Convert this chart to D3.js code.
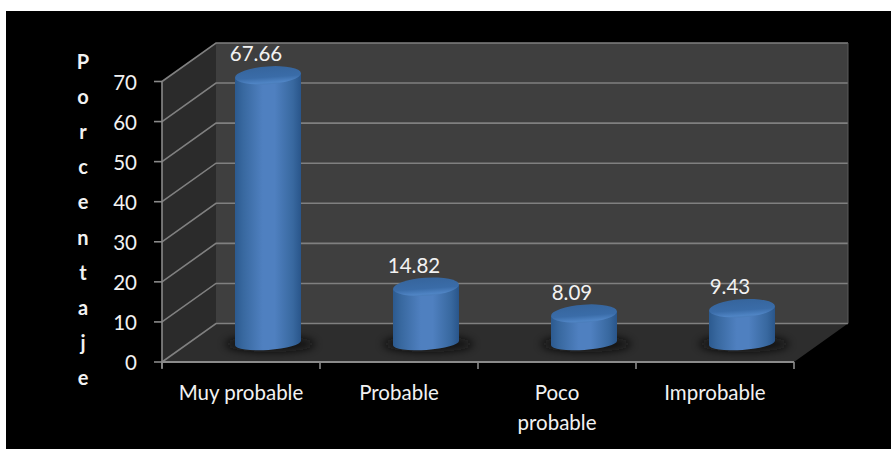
<!DOCTYPE html>
<html>
<head>
<meta charset="utf-8">
<script src="https://cdnjs.cloudflare.com/ajax/libs/d3/7.8.5/d3.min.js"></script>
<style>
html,body{margin:0;padding:0;background:#fff;}
svg{display:block;}
text{font-family:Lato,"Open Sans",sans-serif;fill:#f2f2f2;}
</style>
</head>
<body>
<svg id="chart" width="891" height="449"></svg>
<script>
// Survey responses, in percent
const categories = ["Muy probable", "Probable", "Poco probable", "Improbable"];
const values = [67.66, 14.82, 8.09, 9.43];
const valueLabels = ["67.66", "14.82", "8.09", "9.43"];
const yTicks = [0, 10, 20, 30, 40, 50, 60, 70];
const axisTitle = "Porcentaje".split("");

const svg = d3.select("#chart");
svg.append("rect").attr("x", 6).attr("y", 11).attr("width", 885).attr("height", 438).attr("fill", "#000");

// Front plane of the 3D box and the offset to its back plane
const x = d3.scaleBand().domain(categories).range([162, 794]).padding(0);
const y = d3.scaleLinear().domain([0, 70]).range([362, 81.5]);
const depth = { dx: 54, dy: -38.5 };
const x0 = 162, x1 = 794;

const defs = svg.append("defs");
const body = defs.append("linearGradient").attr("id", "cylBody");
[[0, "#2c5a8f"], [0.12, "#38689f"], [0.42, "#4f80c0"], [0.6, "#4f80c0"], [0.88, "#38689f"], [1, "#29558a"]]
  .forEach(([o, c]) => body.append("stop").attr("offset", o).attr("stop-color", c));
const cap = defs.append("linearGradient").attr("id", "cylCap").attr("x1", 0).attr("x2", 0).attr("y1", 0).attr("y2", 1);
[[0, "#36659d"], [0.6, "#3a6ca8"], [0.9, "#4f84c4"], [1, "#4a7cb8"]]
  .forEach(([o, c]) => cap.append("stop").attr("offset", o).attr("stop-color", c));
defs.append("filter").attr("id", "soft").attr("x", "-30%").attr("y", "-60%").attr("width", "160%").attr("height", "220%")
  .append("feGaussianBlur").attr("stdDeviation", 4);

// Walls and floor
const poly = (pts, fill) => svg.append("polygon").attr("points", pts.map(p => p.join(",")).join(" ")).attr("fill", fill);
poly([[x0, y(0)], [x0 + depth.dx, y(0) + depth.dy], [x0 + depth.dx, y(70) + depth.dy], [x0, y(70)]], "#2b2b2b");
poly([[x0 + depth.dx, y(0) + depth.dy], [x1 + depth.dx, y(0) + depth.dy], [x1 + depth.dx, y(70) + depth.dy], [x0 + depth.dx, y(70) + depth.dy]], "#3f3f3f");
poly([[x0, y(0)], [x1, y(0)], [x1 + depth.dx, y(0) + depth.dy], [x0 + depth.dx, y(0) + depth.dy]], "#2d2d2d");

// Gridlines run along the side wall and across the back wall
const grid = "#808080";
svg.append("g").selectAll("path").data(yTicks).join("path")
  .attr("d", t => `M${x0},${y(t)}L${x0 + depth.dx},${y(t) + depth.dy}H${x1 + depth.dx}`)
  .attr("fill", "none").attr("stroke", grid).attr("stroke-width", 1.6);
svg.append("line").attr("x1", x1 + depth.dx).attr("x2", x1 + depth.dx)
  .attr("y1", y(70) + depth.dy).attr("y2", y(0) + depth.dy).attr("stroke", "#5c5c5c").attr("stroke-width", 1);

// Axis lines with outward ticks
const axisColor = "#8a8a8a";
svg.append("line").attr("x1", x0).attr("x2", x0).attr("y1", y(70)).attr("y2", y(0) + 6).attr("stroke", axisColor).attr("stroke-width", 1.6);
svg.append("line").attr("x1", x0).attr("x2", x1).attr("y1", y(0)).attr("y2", y(0)).attr("stroke", axisColor).attr("stroke-width", 1.8);
svg.append("g").selectAll("line").data(yTicks).join("line")
  .attr("x1", x0 - 8).attr("x2", x0).attr("y1", t => y(t)).attr("y2", t => y(t))
  .attr("stroke", axisColor).attr("stroke-width", 1.6);
const boundaries = [...categories.map(c => x(c)), x1];
svg.append("g").selectAll("line").data(boundaries).join("line")
  .attr("x1", d => d).attr("x2", d => d).attr("y1", y(0)).attr("y2", y(0) + 7)
  .attr("stroke", axisColor).attr("stroke-width", 1.6);

// Cylinders stand mid-way through the depth of the box, slightly tilted by the view
const rx = 33, ryTop = 9, ryBase = 7, tilt = -4;
const lift = rx * Math.sin(-tilt * Math.PI / 180);
const capY = d3.scaleLinear().domain([0, 70]).range([346, 66]);
const baseY = 343;
const cx = c => x(c) + x.bandwidth() / 2 + depth.dx / 2;

const bars = svg.append("g").selectAll("g").data(categories).join("g");
bars.append("ellipse").attr("cx", c => cx(c) + 2).attr("cy", baseY + 1).attr("rx", rx + 12).attr("ry", 8)
  .attr("fill", "#0c0c0c").attr("opacity", 0.85).attr("filter", "url(#soft)");
bars.append("path")
  .attr("d", (c, i) => {
    const t = capY(values[i]), m = cx(c);
    return `M${m - rx},${t + lift}L${m - rx},${baseY + lift}A${rx},${ryBase} ${tilt} 0 0 ${m + rx},${baseY - lift}L${m + rx},${t - lift}Z`;
  })
  .attr("fill", "url(#cylBody)");
bars.append("ellipse").attr("cx", 0).attr("cy", 0).attr("rx", rx).attr("ry", ryTop)
  .attr("transform", (c, i) => `translate(${cx(c)},${capY(values[i])}) rotate(${tilt})`)
  .attr("fill", "url(#cylCap)");

// Value labels
svg.append("g").selectAll("text").data(categories).join("text")
  .attr("x", c => cx(c) - 12).attr("y", (c, i) => capY(values[i]) - 14)
  .attr("text-anchor", "middle").attr("font-size", 20.5).text((c, i) => valueLabels[i]);

// Tick labels
svg.append("g").selectAll("text").data(yTicks).join("text")
  .attr("x", 137).attr("y", t => y(t) + 1).attr("dy", "0.35em")
  .attr("text-anchor", "end").attr("font-size", 20.5).text(t => t);

const catText = svg.append("g").selectAll("text").data(categories).join("text")
  .attr("text-anchor", "middle").attr("font-size", 20.5);
catText.each(function (c) {
  const words = c === "Poco probable" ? ["Poco", "probable"] : [c];
  d3.select(this).selectAll("tspan").data(words).join("tspan")
    .attr("x", x(c) + x.bandwidth() / 2).attr("y", (w, i) => 400 + i * 30).text(w => w);
});

// Axis title, one letter per line
svg.append("g").selectAll("text").data(axisTitle).join("text")
  .attr("x", 83).attr("y", (l, i) => 69 + i * 35.1)
  .attr("text-anchor", "middle").attr("font-size", 20).attr("font-weight", 700).attr("fill", "#fff").text(l => l);
</script>
</body>
</html>
